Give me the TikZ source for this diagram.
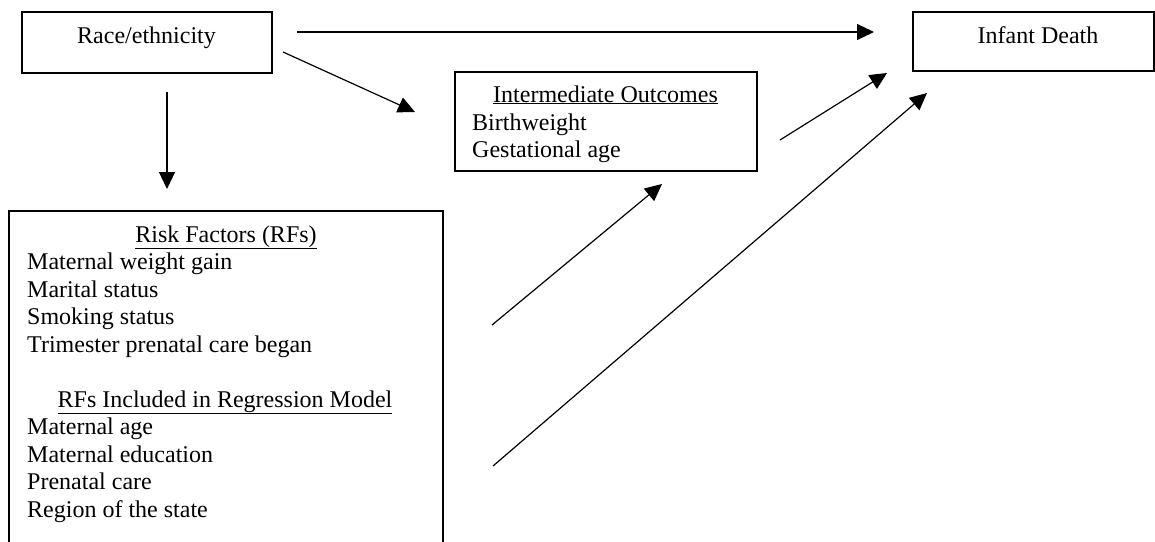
\documentclass[tikz,border=0pt]{standalone}
\usepackage{fontspec}
\setmainfont{Liberation Serif}
\usetikzlibrary{arrows.meta}
\begin{document}
\begin{tikzpicture}[x=1pt,y=-1pt,
  box/.style={draw,line width=1.3pt,inner sep=0pt},
  txt/.style={anchor=base,inner sep=0pt,font=\fontsize{24}{27.5}\selectfont},
  ltxt/.style={anchor=base west,inner sep=0pt,font=\fontsize{24}{27.5}\selectfont},
  conn/.style={line width=1.2pt,-{Triangle[length=17pt,width=16pt]}}]
\useasboundingbox (0,0) rectangle (1155,541);
\clip (0,0) rectangle (1155,541);
% boxes
\node[box,minimum width=250pt,minimum height=61pt] (race) at (147,42.5) {};
\node[box,minimum width=241pt,minimum height=59pt] (infant) at (1033.5,41.5) {};
\node[box,minimum width=302pt,minimum height=99pt] (inter) at (606,121.5) {};
\node[box,minimum width=434pt,minimum height=360pt] (risk) at (226,391) {};
% texts
\node[txt] (raceT) at (146.5,43) {Race/ethnicity};
\node[txt] (infantT) at (1038,43) {Infant Death};
\node[txt] (interH) at (605.5,102) {\underline{Intermediate Outcomes}};
\node[ltxt] (bw) at (472,130) {Birthweight};
\node[ltxt] (ga) at (472,157) {Gestational age};
\node[txt] (riskH) at (226,242) {\underline{Risk Factors (RFs)}};
\node[ltxt] (r1) at (27,269.5) {Maternal weight gain};
\node[ltxt] (r2) at (27,297) {Marital status};
\node[ltxt] (r3) at (27,324.5) {Smoking status};
\node[ltxt] (r4) at (27,352) {Trimester prenatal care began};
\node[txt] (regH) at (225,407) {\underline{RFs Included in Regression Model}};
\node[ltxt] (g1) at (27,434.5) {Maternal age};
\node[ltxt] (g2) at (27,462) {Maternal education};
\node[ltxt] (g3) at (27,489.5) {Prenatal care};
\node[ltxt] (g4) at (27,517) {Region of the state};
% connector end points
\coordinate (a1s) at (297,32);   \coordinate (a1e) at (874,32);
\coordinate (a2s) at (283,52);   \coordinate (a2e) at (415,112);
\coordinate (a3s) at (167,92);   \coordinate (a3e) at (167,189);
\coordinate (a4s) at (780,140);  \coordinate (a4e) at (887,73);
\coordinate (a5s) at (492,325);  \coordinate (a5e) at (662,184);
\coordinate (a6s) at (493,466);  \coordinate (a6e) at (927,93);
\draw[conn] (a1s) -- (a1e);
\draw[conn] (a2s) -- (a2e);
\draw[conn] (a3s) -- (a3e);
\draw[conn] (a4s) -- (a4e);
\draw[conn] (a5s) -- (a5e);
\draw[conn] (a6s) -- (a6e);
\end{tikzpicture}
\end{document}
